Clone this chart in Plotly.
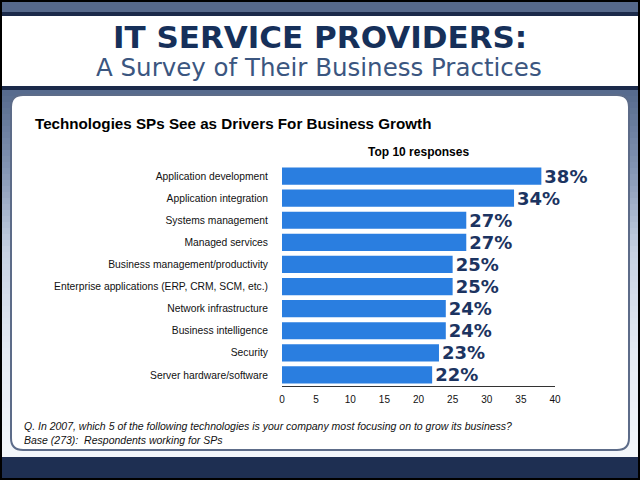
import plotly.graph_objects as go

categories = [
    "Application development",
    "Application integration",
    "Systems management",
    "Managed services",
    "Business management/productivity",
    "Enterprise applications (ERP, CRM, SCM, etc.)",
    "Network infrastructure",
    "Business intelligence",
    "Security",
    "Server hardware/software",
]
values = [38, 34, 27, 27, 25, 25, 24, 24, 23, 22]
x_ticks = [0, 5, 10, 15, 20, 25, 30, 35, 40]

W, H = 640, 480
L, R, T, B = 282, 85, 165, 94
PW, PH = W - L - R, H - T - B


def px(x):
    return (x - L) / PW


def py(y):
    return (H - B - y) / PH


def rect(x0, y0, x1, y1, color, **kw):
    return dict(type="rect", xref="paper", yref="paper", x0=px(x0), x1=px(x1),
                y0=py(y1), y1=py(y0), fillcolor=color, line=dict(width=0),
                layer="below", **kw)


def hex2rgb(h):
    h = h.lstrip("#")
    return tuple(int(h[i:i + 2], 16) for i in (0, 2, 4))


shapes = []
shapes.append(rect(0, 0, 640, 480, "#000000"))
shapes.append(rect(2, 2, 638, 12, "#56698b"))
shapes.append(rect(2, 12, 638, 16, "#1b2a4a"))
shapes.append(rect(2, 16, 638, 86, "#ffffff"))
shapes.append(rect(2, 86, 638, 90, "#1b2a4a"))

# gradient background strips
stops = [(90, "#55698c"), (170, "#8496b4"), (250, "#c6d1e2"), (350, "#e4eaf3"), (457, "#f3f6fa")]
y = 90
step = 6
while y < 457:
    yc = y + step / 2
    for i in range(len(stops) - 1):
        if stops[i][0] <= yc <= stops[i + 1][0] or i == len(stops) - 2:
            a, ca = stops[i]
            b, cb = stops[i + 1]
            break
    t = min(max((yc - a) / (b - a), 0), 1)
    ra, rb = hex2rgb(ca), hex2rgb(cb)
    col = "rgb(%d,%d,%d)" % tuple(round(ra[k] + (rb[k] - ra[k]) * t) for k in range(3))
    shapes.append(rect(2, y, 638, min(y + step + 0.5, 457), col))
    y += step

shapes.append(rect(2, 457, 638, 478, "#1e2f52"))

# rounded white panel
x0, y0, x1, y1, r = 11, 95, 629, 450, 12
pts = [
    ("M", (x0 + r, y0)), ("L", (x1 - r, y0)), ("Q", (x1, y0), (x1, y0 + r)),
    ("L", (x1, y1 - r)), ("Q", (x1, y1), (x1 - r, y1)), ("L", (x0 + r, y1)),
    ("Q", (x0, y1), (x0, y1 - r)), ("L", (x0, y0 + r)), ("Q", (x0, y0), (x0 + r, y0)),
]
path = ""
for p in pts:
    cmd = p[0]
    coords = " ".join("%.5f,%.5f" % (px(c[0]), py(c[1])) for c in p[1:])
    path += cmd + coords + " "
path += "Z"
shapes.append(dict(type="path", xref="paper", yref="paper", path=path,
                   fillcolor="#ffffff", line=dict(color="#5d6c89", width=2), layer="below"))

fig = go.Figure()
fig.add_trace(go.Bar(
    x=values, y=categories, orientation="h",
    marker=dict(color="#2a7ee0", line=dict(width=0)),
    text=[f"{v}%" for v in values], textposition="outside",
    constraintext="none",
    textfont=dict(family="DejaVu Sans", size=18, color="#1c3461", weight="bold"),
    cliponaxis=False, hoverinfo="skip",
))


def ann(text, x, y, size, color, bold=False, italic=False, xanchor="center", family="Liberation Sans"):
    return dict(text=text, xref="paper", yref="paper", x=px(x), y=py(y),
                xanchor=xanchor, yanchor="middle", showarrow=False,
                font=dict(family=family, size=size, color=color,
                          weight="bold" if bold else "normal",
                          style="italic" if italic else "normal"))


annotations = [
    ann("IT SERVICE PROVIDERS:", 320, 37, 31, "#16305a", bold=True, family="DejaVu Sans"),
    ann("A Survey of Their Business Practices", 319, 67, 24.5, "#3b5680", family="DejaVu Sans"),
    ann("Technologies SPs See as Drivers For Business Growth", 33, 123, 15.2, "#000000", bold=True, xanchor="left"),
    ann("Top 10 responses", 418, 152, 12, "#000000", bold=True),
    ann("Q. In 2007, which 5 of the following technologies is your company most focusing on to grow its business?",
        22, 426, 10.5, "#111111", italic=True, xanchor="left"),
    ann("Base (273):  Respondents working for SPs", 22, 440, 10.5, "#111111", italic=True, xanchor="left"),
]

fig.update_layout(
    width=W, height=H,
    margin=dict(l=L, r=R, t=T, b=B, pad=0),
    paper_bgcolor="#000000", plot_bgcolor="rgba(0,0,0,0)",
    shapes=shapes, annotations=annotations,
    bargap=0.22, showlegend=False,
    xaxis=dict(range=[0, 40], tickvals=x_ticks, ticktext=[str(v) for v in x_ticks],
               showgrid=False, zeroline=False, showline=True, linecolor="#333333",
               linewidth=1, ticks="outside", ticklen=4, tickcolor="rgba(0,0,0,0)",
               tickfont=dict(family="Liberation Sans", size=10, color="#111111"),
               fixedrange=True),
    yaxis=dict(categoryorder="array", categoryarray=categories, autorange="reversed",
               showgrid=False, zeroline=False, showline=False,
               ticks="outside", ticklen=11, tickcolor="rgba(0,0,0,0)",
               tickfont=dict(family="Liberation Sans", size=10.3, color="#111111"),
               fixedrange=True),
)

fig.write_html("out.html", config={"displayModeBar": False})
